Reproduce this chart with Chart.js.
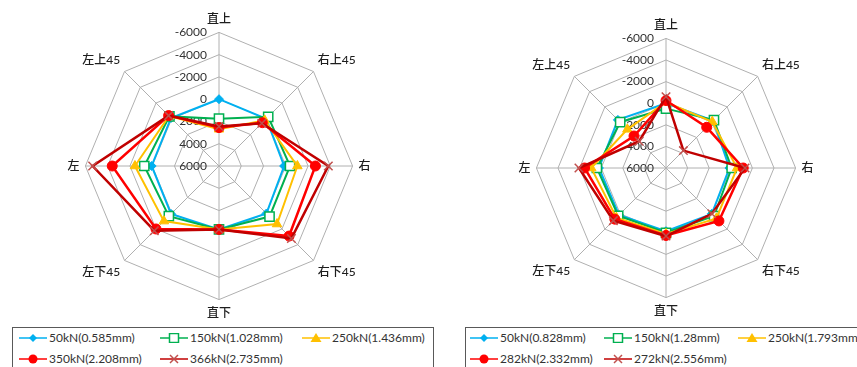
<!DOCTYPE html>
<html>
<head>
<meta charset="utf-8">
<script src="https://cdn.jsdelivr.net/npm/chart.js@4/dist/chart.umd.min.js"></script>
<style>
  html, body { margin: 0; padding: 0; background: #fff; }
  body { width: 857px; height: 367px; position: relative; overflow: hidden;
         font-family: Lato, "Noto Sans CJK SC", sans-serif; }
  canvas { position: absolute; }
  .legend { position: absolute; border: 1px solid #595959; background: #fff; box-sizing: border-box; }
  .item { position: absolute; display: flex; align-items: center; font-size: 12px; color: #333; white-space: nowrap; }
  .item svg { margin-right: 2px; }
</style>
</head>
<body>
<canvas id="left" width="320" height="308" style="left:59px;top:12px"></canvas>
<canvas id="right" width="310" height="300" style="left:511px;top:18px"></canvas>
<div class="legend" id="legLeft" style="left:12px;top:327px;width:422px;height:48px"></div>
<div class="legend" id="legRight" style="left:465px;top:327px;width:400px;height:48px"></div>
<script>
// Measurement directions, clockwise from the top
const directions = ['直上', '右上45', '右', '右下45', '直下', '左下45', '左', '左上45'];
const tickValues = [-6000, -4000, -2000, 0, 2000, 4000, 6000];

// Left specimen
const leftNames = ['50kN(0.585mm)', '150kN(1.028mm)', '250kN(1.436mm)', '350kN(2.208mm)', '366kN(2.735mm)'];
const left50  = [0, 0, 150, -30, 300, -90, -50, -100];
const left150 = [1750, -250, -380, -420, 300, -370, -710, -300];
const left250 = [2700, 200, -1040, -1370, 300, -1000, -1550, -350];
const left350 = [2550, 500, -2660, -2900, 300, -2000, -3590, -400];
const left366 = [2450, 560, -3820, -3200, 300, -2220, -5350, -400];

// Right specimen
const rightNames = ['50kN(0.828mm)', '150kN(1.28mm)', '250kN(1.793mm)', '282kN(2.332mm)', '272kN(2.556mm)'];
const right50  = [0, -200, 130, 0, 150, -150, -210, -300];
const right150 = [500, -280, -80, -290, 0, -260, -400, 0];
const right250 = [-100, -60, -580, -600, -100, -500, -920, 940];
const right282 = [-250, 670, -1150, -930, -250, -700, -1540, 1810];
const right272 = [-600, 3720, -1320, 0, -300, -890, -2060, 2490];

// Series styling (line colour, marker shape, marker colours)
const styles = [
  { line: '#00B0F0', shape: 'rectRot',  fill: '#00B0F0', edge: '#00B0F0', r: 4.5, bw: 1 },
  { line: '#00B050', shape: 'rect',     fill: '#FFFFFF', edge: '#00B050', r: 6.5, bw: 1.5 },
  { line: '#FFC000', shape: 'triangle', fill: '#FFC000', edge: '#FFC000', r: 5.5, bw: 1 },
  { line: '#FF0000', shape: 'circle',   fill: '#FF0000', edge: '#FF0000', r: 5,   bw: 1 },
  { line: '#C00000', shape: 'crossRot', fill: '#C0504D', edge: '#C0504D', r: 6,   bw: 1.5 }
];

Chart.defaults.font.family = 'Lato, "Noto Sans CJK SC", sans-serif';
Chart.defaults.font.size = 12;

// Value labels on the vertical axis, right-aligned just left of it
const tickLabelPlugin = {
  id: 'tickLabels',
  beforeDatasetsDraw(chart) {
    const s = chart.scales.r;
    const ctx = chart.ctx;
    ctx.save();
    ctx.font = '12px Lato, "Noto Sans CJK SC", sans-serif';
    ctx.fillStyle = '#333333';
    ctx.textAlign = 'right';
    ctx.textBaseline = 'middle';
    tickValues.forEach(v => {
      const d = s.getDistanceFromCenterForValue(v);
      ctx.fillText(String(v), s.xCenter - 12, s.yCenter - d);
    });
    ctx.restore();
  }
};

function makeRadar(id, names, series) {
  const n = series.length;
  const datasets = series.map((data, i) => ({
    label: names[i],
    data: data,
    order: n - i, // later loads are drawn on top
    borderColor: styles[i].line,
    borderWidth: i >= 3 ? 2.5 : 2,
    fill: false,
    tension: 0,
    pointStyle: styles[i].shape,
    pointRadius: styles[i].r,
    pointBackgroundColor: styles[i].fill,
    pointBorderColor: styles[i].edge,
    pointBorderWidth: styles[i].bw
  }));
  return new Chart(document.getElementById(id), {
    type: 'radar',
    data: { labels: directions, datasets },
    plugins: [tickLabelPlugin],
    options: {
      responsive: false,
      animation: false,
      plugins: { legend: { display: false }, tooltip: { enabled: false } },
      scales: {
        r: {
          min: -6000,
          max: 6000,
          reverse: true,
          beginAtZero: false,
          ticks: { stepSize: 2000, display: false },
          grid: { color: '#B0B0B0', lineWidth: 1 },
          angleLines: { color: '#B0B0B0', lineWidth: 1 },
          pointLabels: { color: '#1E1E1E', padding: 6, font: { size: 12, weight: '500' } }
        }
      }
    }
  });
}

makeRadar('left', leftNames, [left50, left150, left250, left350, left366]);
makeRadar('right', rightNames, [right50, right150, right250, right282, right272]);

// Legend marker drawn as a short line with the series marker in the middle
function markerSvg(st) {
  const c = 14, m = 5;
  let shape = '';
  if (st.shape === 'rectRot') {
    shape = `<polygon points="${c},${m-4} ${c+4},${m} ${c},${m+4} ${c-4},${m}" fill="${st.fill}"/>`;
  } else if (st.shape === 'rect') {
    shape = `<rect x="${c-4.5}" y="${m-4.5}" width="9" height="9" fill="#fff" stroke="${st.edge}" stroke-width="1.5"/>`;
  } else if (st.shape === 'triangle') {
    shape = `<polygon points="${c},${m-5} ${c+5.5},${m+4} ${c-5.5},${m+4}" fill="${st.fill}"/>`;
  } else if (st.shape === 'circle') {
    shape = `<circle cx="${c}" cy="${m}" r="4.5" fill="${st.fill}"/>`;
  } else {
    shape = `<path d="M${c-4} ${m-4} L${c+4} ${m+4} M${c+4} ${m-4} L${c-4} ${m+4}" stroke="${st.edge}" stroke-width="1.5"/>`;
  }
  return `<svg width="28" height="10" viewBox="0 0 28 10"><line x1="0" y1="${m}" x2="28" y2="${m}" stroke="${st.line}" stroke-width="1.5"/>${shape}</svg>`;
}

function buildLegend(boxId, names, cols) {
  const box = document.getElementById(boxId);
  names.forEach((name, i) => {
    const el = document.createElement('div');
    el.className = 'item';
    el.style.left = cols[i % 3] + 'px';
    el.style.top = (i < 3 ? 2 : 23) + 'px';
    el.innerHTML = markerSvg(styles[i]) + '<span>' + name + '</span>';
    box.appendChild(el);
  });
}
buildLegend('legLeft', leftNames, [6, 147, 289]);
buildLegend('legRight', rightNames, [4, 138, 272]);
</script>
</body>
</html>
